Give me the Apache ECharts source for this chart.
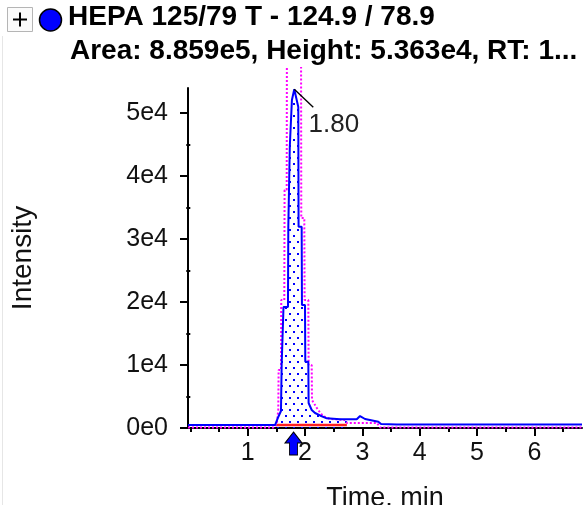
<!DOCTYPE html>
<html><head><meta charset="utf-8">
<script src="https://cdn.jsdelivr.net/npm/echarts@6/dist/echarts.min.js"></script>
<style>html,body{margin:0;padding:0;background:#fff}#c{width:587px;height:505px}</style>
</head><body><div id="c"></div>
<script>
// ---- data ----
const titleLine1 = 'HEPA 125/79 T - 124.9 / 78.9';
const titleLine2 = 'Area: 8.859e5, Height: 5.363e4, RT: 1...';
const xAxisName = 'Time, min';
const yAxisName = 'Intensity';
const xTickValues = [1, 2, 3, 4, 5, 6];
const xMinorTickValues = [0, 0.5, 1.5, 2.5, 3.5, 4.5, 5.5, 6.5];
const yTickValues = [0, 10000, 20000, 30000, 40000, 50000];
const yTickLabels = ['0e0', '1e4', '2e4', '3e4', '4e4', '5e4'];
const yMinorTickValues = [5000, 15000, 25000, 35000, 45000];
const xRange = [-0.04, 6.83];
const yRange = [0, 54000];

const blueTimes = [-0.04,0.15,0.35,0.55,0.75,0.95,1.15,1.35,1.48,1.506,1.534,1.581,1.593,1.625,1.703,1.709,1.73,1.735,1.768,1.772,1.813,1.883,1.888,1.942,1.947,2.0,2.005,2.058,2.063,2.117,2.175,2.262,2.379,2.611,2.73,2.902,2.96,3.047,3.279,3.326,3.6,3.9,4.2,4.5,4.8,5.1,5.4,5.7,6.0,6.3,6.6,6.83];
const blueIntensity = [470,480,460,480,470,460,480,470,480,400,1750,2700,10000,19200,19200,31900,31900,44700,44700,52100,53800,50980,31970,31970,19530,19530,10530,10530,3970,2860,2380,1990,1540,1380,1380,1380,1900,1430,1000,640,560,560,550,560,560,550,560,560,550,560,560,560];

const magentaTimes = [-0.04,0.3,0.7,1.1,1.45,1.506,1.534,1.54,1.581,1.586,1.639,1.644,1.681,1.686,1.930,1.935,1.988,1.993,2.058,2.063,2.117,2.122,2.227,2.314,2.436,2.698,2.733,3.257,3.309,3.8,4.5,5.2,5.9,6.83];
const magentaIntensity = [80,80,80,80,80,480,2860,9210,9210,20330,20330,37800,37800,70000,70000,33350,33350,20330,20330,10000,10000,4450,2860,1900,1430,1270,790,790,80,80,80,80,80,80];

const peakStart = 1.506, peakEnd = 2.73, baselineLevel = 480;
const apexRT = 1.80;

// ---- build ----
const FONT = '"Liberation Sans", Arial, sans-serif';
const blueData = blueTimes.map((t, i) => [t, blueIntensity[i]]);
const magentaData = magentaTimes.map((t, i) => [t, magentaIntensity[i]]);
const areaData = blueData.filter(p => p[0] >= peakStart && p[0] <= peakEnd);

const pc = document.createElement('canvas'); pc.width = 8; pc.height = 12;
const g = pc.getContext('2d'); g.fillStyle = '#0000ff';
g.fillRect(1, 1, 2, 2); g.fillRect(5, 7, 2, 2);

const gridMain = {left: 188, right: 5, top: 88, bottom: 77, outerBoundsMode: 'none', containLabel: false};
const pxPerUnit = (505 - 88 - 77) / (yRange[1] - yRange[0]);
const grid2Top = 68;
const grid2Max = (505 - 77 - grid2Top) / pxPerUnit;

const chart = echarts.init(document.getElementById('c'), null, {renderer: 'canvas'});
chart.setOption({
  animation: false,
  backgroundColor: '#fff',
  textStyle: {fontFamily: FONT},
  grid: [gridMain, {left: 188, right: 5, top: grid2Top, bottom: 77, outerBoundsMode: 'none', containLabel: false}],
  xAxis: [{
    gridIndex: 0, type: 'value', min: xRange[0], max: xRange[1],
    name: xAxisName, nameLocation: 'middle', nameGap: 57,
    nameTextStyle: {fontSize: 27, color: '#111', fontFamily: FONT},
    axisLine: {show: true, onZero: false, lineStyle: {color: '#000', width: 2}},
    axisTick: {show: true, length: 8, customValues: xTickValues, lineStyle: {color: '#000', width: 2}},
    axisLabel: {customValues: xTickValues, fontSize: 25, margin: 13, color: '#111', fontFamily: FONT},
    splitLine: {show: false}
  }, {
    gridIndex: 0, type: 'value', min: xRange[0], max: xRange[1], position: 'bottom',
    axisLine: {show: false}, axisLabel: {show: false}, splitLine: {show: false},
    axisTick: {show: true, length: 4, customValues: xMinorTickValues, lineStyle: {color: '#000', width: 2}}
  }, {
    gridIndex: 1, type: 'value', min: xRange[0], max: xRange[1], show: false
  }],
  yAxis: [{
    gridIndex: 0, type: 'value', min: yRange[0], max: yRange[1], position: 'left',
    name: yAxisName, nameLocation: 'middle', nameGap: 151,
    nameTextStyle: {fontSize: 28, color: '#111', fontFamily: FONT},
    axisLine: {show: true, onZero: false, lineStyle: {color: '#000', width: 2}},
    axisTick: {show: true, length: 8, customValues: yTickValues, lineStyle: {color: '#000', width: 2}},
    axisLabel: {customValues: yTickValues, formatter: v => yTickLabels[yTickValues.indexOf(v)],
      fontSize: 25, margin: 20, color: '#111', fontFamily: FONT},
    splitLine: {show: false}
  }, {
    gridIndex: 0, type: 'value', min: yRange[0], max: yRange[1], position: 'left', offset: 0,
    axisLine: {show: false}, axisLabel: {show: false}, splitLine: {show: false},
    axisTick: {show: true, length: 4, customValues: yMinorTickValues, lineStyle: {color: '#000', width: 2}}
  }, {
    gridIndex: 1, type: 'value', min: yRange[0], max: grid2Max, show: false
  }],
  series: [{
    type: 'line', xAxisIndex: 0, yAxisIndex: 0, data: areaData, symbol: 'none', z: 1,
    lineStyle: {width: 0}, areaStyle: {color: {image: pc, repeat: 'repeat'}, opacity: 1}
  }, {
    type: 'line', xAxisIndex: 2, yAxisIndex: 2, data: magentaData, symbol: 'none', z: 2,
    lineStyle: {color: '#ff00ff', width: 2, type: 'dotted'}
  }, {
    type: 'line', xAxisIndex: 0, yAxisIndex: 0, symbol: 'none', z: 3,
    data: [[peakStart, baselineLevel], [peakEnd, baselineLevel]],
    lineStyle: {color: '#ff2020', width: 2.5},
    markPoint: {
      symbol: 'path://M8.5,0L17,11L12.5,11L12.5,23L4.5,23L4.5,11L0,11Z',
      symbolSize: [17, 23], symbolOffset: [0, 15.5], symbolKeepAspect: false,
      itemStyle: {color: '#0000ff', borderColor: '#000', borderWidth: 1},
      label: {show: false},
      data: [{coord: [apexRT, 0]}]
    }
  }, {
    type: 'line', xAxisIndex: 0, yAxisIndex: 0, data: blueData, symbol: 'none', z: 4,
    lineStyle: {color: '#0000ff', width: 2},
    markPoint: {
      symbol: 'path://M0,0L10,10', symbolSize: [19, 18], symbolOffset: [9.5, 9],
      itemStyle: {color: 'transparent', borderColor: '#000', borderWidth: 1.3},
      label: {show: true, formatter: apexRT.toFixed(2), position: [15, 23],
        fontSize: 26, color: '#222', fontFamily: FONT},
      data: [{type: 'max'}]
    }
  }],
  graphic: [
    {type: 'line', shape: {x1: 2.5, y1: 36, x2: 2.5, y2: 505}, style: {stroke: '#e6e6e6', lineWidth: 1}},
    {type: 'rect', shape: {x: 7.5, y: 7.5, width: 25, height: 24}, style: {fill: '#fbfbfb', stroke: '#b5b5b5', lineWidth: 1}},
    {type: 'line', shape: {x1: 13, y1: 19.5, x2: 27, y2: 19.5}, style: {stroke: '#000', lineWidth: 2}},
    {type: 'line', shape: {x1: 20, y1: 12.5, x2: 20, y2: 26.5}, style: {stroke: '#000', lineWidth: 2}},
    {type: 'circle', shape: {cx: 50.5, cy: 20, r: 11}, style: {fill: '#0000ff', stroke: '#000', lineWidth: 1.5}},
    {type: 'text', x: 68, y: 3, style: {text: titleLine1, font: 'bold 28px ' + FONT, fill: '#000', verticalAlign: 'top'}},
    {type: 'text', x: 70, y: 37, style: {text: titleLine2, font: 'bold 28px ' + FONT, fill: '#000', verticalAlign: 'top'}}
  ]
});
</script></body></html>
